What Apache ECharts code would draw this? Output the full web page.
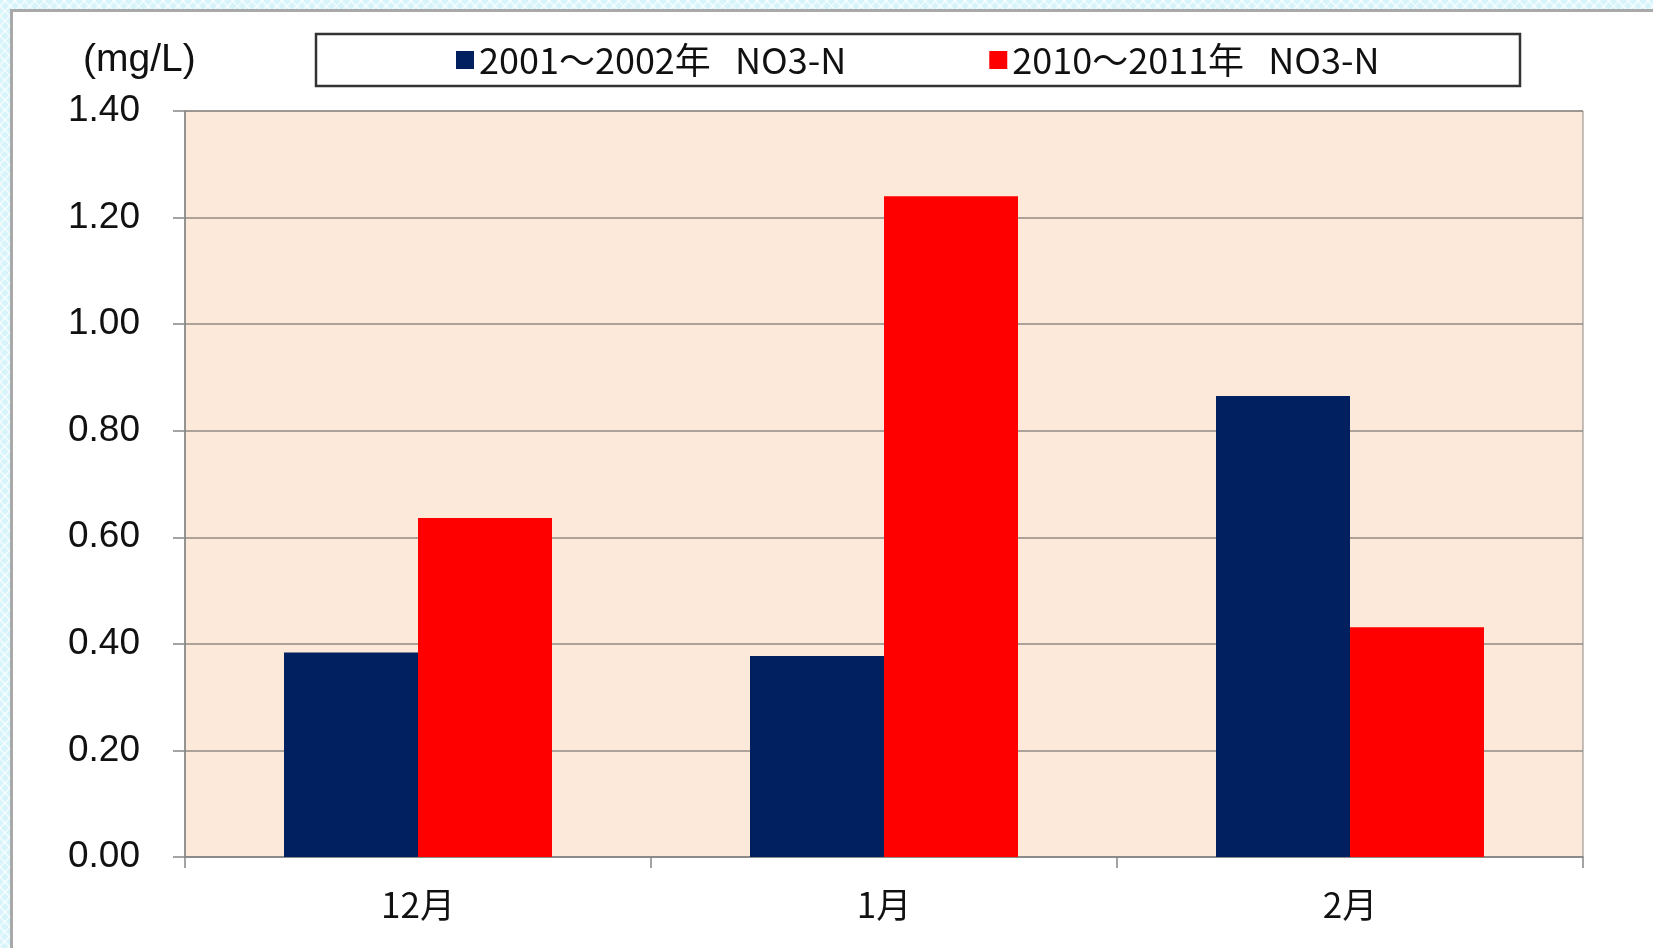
<!DOCTYPE html>
<html>

<head>
    <meta charset="utf-8">
    <title>NO3-N</title>
    <script src="https://cdn.jsdelivr.net/npm/echarts@6/dist/echarts.min.js"></script>
    <style>
        body {
            margin: 0;
            width: 1653px;
            height: 948px;
            overflow: hidden;
            position: relative;
            background-color: #d6f4fa;
            background-image:
                repeating-linear-gradient(45deg, rgba(255, 255, 255, .55) 0 2px, transparent 2px 7px),
                repeating-linear-gradient(-45deg, rgba(255, 255, 255, .55) 0 2px, transparent 2px 7px);
        }

        #frame {
            position: absolute;
            left: 10px;
            top: 9px;
            width: 1720px;
            height: 1000px;
            background: #fff;
            border: 3px solid #a9a9a9;
        }

        #main {
            position: absolute;
            left: 0;
            top: 0;
            width: 1653px;
            height: 948px;
        }
    </style>
</head>

<body>
    <div id="frame"></div>
    <div id="main"></div>
    <script type="text/javascript">
        // 月別データ
        var months = ['12月', '1月', '2月'];
        var no3n2001 = [0.384, 0.377, 0.865];
        var no3n2010 = [0.636, 1.240, 0.431];
        var seriesNames = ['2001～2002年   NO3-N', '2010～2011年   NO3-N'];
        var yMin = 0, yMax = 1.4, yStep = 0.2;

        var myChart = echarts.init(document.getElementById('main'));

        myChart.setOption({
            animation: false,
            backgroundColor: 'transparent',
            title: {
                text: '(mg/L)',
                left: 83,
                top: 41,
                padding: 0,
                textStyle: {
                    fontFamily: 'Liberation Sans',
                    fontWeight: 'normal',
                    fontSize: 39,
                    color: '#111'
                }
            },
            graphic: [{
                type: 'rect',
                shape: { x: 316, y: 34, width: 1204, height: 52 },
                style: { fill: '#fff', stroke: '#333', lineWidth: 2.5 },
                z: -1
            }],
            legend: {
                left: 456,
                top: 40,
                padding: 0,
                itemWidth: 18,
                itemHeight: 18,
                itemGap: 143,
                icon: 'rect',
                textStyle: {
                    fontFamily: 'Noto Sans CJK JP',
                    fontSize: 36,
                    lineHeight: 40,
                    color: '#111'
                },
                data: seriesNames
            },
            grid: {
                left: 185,
                top: 111,
                width: 1398,
                height: 746,
                show: true,
                backgroundColor: '#fde9d9',
                borderColor: '#8c8884',
                borderWidth: 1
            },
            xAxis: {
                type: 'category',
                data: months,
                axisLine: { lineStyle: { color: '#868686', width: 1.5 } },
                axisTick: { show: true, length: 11, lineStyle: { color: '#868686', width: 1.5 } },
                axisLabel: {
                    margin: 30,
                    fontFamily: 'Noto Sans CJK JP',
                    fontSize: 35,
                    color: '#111'
                }
            },
            yAxis: {
                type: 'value',
                min: yMin,
                max: yMax,
                interval: yStep,
                axisLine: { show: true, lineStyle: { color: '#868686', width: 1.5 } },
                axisTick: { show: true, length: 12, lineStyle: { color: '#868686', width: 1.5 } },
                splitLine: { lineStyle: { color: '#8f8a85', width: 1.5 } },
                axisLabel: {
                    margin: 45,
                    fontFamily: 'Liberation Sans',
                    fontSize: 37,
                    color: '#111',
                    formatter: function (v) { return v.toFixed(2); }
                }
            },
            series: [{
                name: seriesNames[0],
                type: 'bar',
                data: no3n2001,
                barWidth: 134,
                barGap: '0%',
                itemStyle: { color: '#002060' }
            }, {
                name: seriesNames[1],
                type: 'bar',
                data: no3n2010,
                barWidth: 134,
                itemStyle: { color: '#ff0000' }
            }]
        });
    </script>
</body>

</html>
